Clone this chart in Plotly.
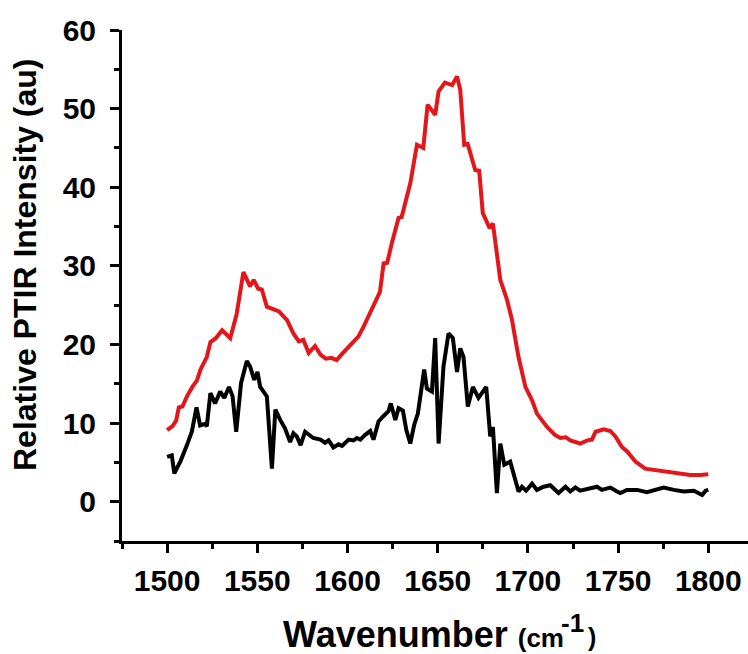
import plotly.graph_objects as go

# Red spectrum
red_x = [1500, 1503, 1505, 1506.5, 1508.5, 1511, 1514, 1516.5, 1518.5, 1522, 1524, 1527,
         1530.5, 1533, 1535, 1538.5, 1542.3, 1546, 1548, 1550.5, 1552.5, 1555.3, 1558, 1562,
         1566.5, 1570, 1573, 1575.5, 1578.5, 1582, 1585, 1588, 1591, 1594, 1597, 1600, 1603,
         1606, 1609, 1612.5, 1616, 1618, 1620, 1622, 1624.6, 1628.3, 1630, 1632.5, 1634.8,
         1638.5, 1642, 1644.4, 1647, 1648.6, 1650.5, 1654, 1658, 1660.7, 1662.5, 1664.7,
         1666.6, 1670.8, 1673, 1675, 1678.8, 1680.6, 1684.7, 1688.4, 1691.2, 1694.8, 1698.6,
         1702.3, 1705, 1710.6, 1715, 1718, 1721, 1723.5, 1729, 1733, 1735.5, 1737.5, 1742,
         1745.7, 1748.5, 1752, 1755, 1759.6, 1765, 1770.7, 1777, 1784.5, 1790, 1795.6, 1800]
red_y = [9.1, 9.6, 10.3, 12.0, 12.1, 13.4, 14.6, 15.4, 16.8, 18.4, 20.3, 20.8,
         21.8, 21.3, 20.8, 23.8, 29.2, 27.4, 28.2, 27.1, 27.0, 24.8, 24.6, 24.2,
         23.1, 21.4, 20.4, 20.6, 18.9, 19.8, 18.7, 18.2, 18.3, 18.0, 18.8, 19.5, 20.2,
         21.0, 22.3, 24.0, 25.6, 26.7, 30.3, 30.4, 32.9, 36.1, 36.2, 38.5, 40.5,
         45.4, 45.0, 50.5, 49.6, 49.2, 52.2, 53.3, 53.0, 54.1, 52.4, 45.4,
         45.5, 42.2, 42.1, 36.7, 34.8, 35.4, 28.2, 25.7, 23.1, 18.4, 14.6,
         12.9, 11.2, 9.5, 8.5, 8.1, 8.2, 7.8, 7.4, 7.8, 7.9, 8.9, 9.2,
         9.0, 8.3, 7.0, 6.4, 5.1, 4.2, 4.0, 3.8, 3.6, 3.4, 3.4, 3.5]

# Black spectrum
black_x = [1500, 1502.6, 1504, 1507.5, 1511, 1513.7, 1516.3, 1518.3, 1521, 1522, 1524, 1526.6,
           1529.4, 1531.7, 1534.3, 1536.3, 1538.3, 1541, 1544.2, 1546, 1548.3, 1550.1, 1551.6,
           1553.8, 1555.3, 1558.1, 1560, 1562.7, 1565.4, 1568.2, 1570, 1571.9, 1574, 1576.5,
           1581, 1585, 1587.6, 1589.5, 1592.2, 1595, 1597, 1600.6, 1603.4, 1605.2, 1607.1,
           1609.8, 1612.6, 1614.4, 1617.2, 1620, 1622.7, 1624, 1626.5, 1628.3, 1630.7, 1632.6,
           1634.8, 1637, 1639, 1642.5, 1644, 1646.8, 1648.6, 1650.5, 1653.2, 1656, 1658.4,
           1660.7, 1662.5, 1664.3, 1666.7, 1669.5, 1672.6, 1676.9, 1679.1, 1680.6, 1682.8,
           1684.7, 1686.9, 1690.2, 1694.8, 1696.7, 1699, 1702.3, 1705, 1708.7, 1712.4, 1717,
           1720.8, 1723.5, 1726.3, 1729, 1733.7, 1738.3, 1741, 1745.7, 1749.4, 1751.2, 1754.9,
           1760.5, 1766, 1769.8, 1775.3, 1780.9, 1786.4, 1792, 1796.6, 1798.5, 1800]
black_y = [5.7, 5.9, 3.6, 5.2, 7.2, 8.9, 12.0, 9.7, 9.9, 9.6, 13.8, 12.5,
           14.0, 13.2, 14.6, 13.4, 8.9, 15.1, 17.9, 17.2, 15.5, 16.5, 14.6,
           13.8, 13.4, 4.2, 11.7, 10.4, 9.3, 7.6, 8.7, 8.3, 7.2, 8.9,
           8.1, 7.9, 7.5, 7.8, 6.9, 7.3, 7.1, 7.9, 7.8, 8.1, 7.9,
           8.5, 9.0, 7.9, 10.2, 10.9, 11.5, 12.5, 10.4, 11.9, 11.6, 9.1,
           7.4, 9.8, 11.2, 16.8, 14.4, 14.0, 20.8, 7.4, 17.2, 21.4, 20.8,
           16.5, 19.5, 18.4, 12.1, 14.6, 13.2, 14.6, 8.3, 9.5, 1.1,
           7.4, 4.7, 5.1, 1.3, 1.9, 1.4, 2.3, 1.5, 1.9, 2.1, 1.1,
           1.9, 1.3, 1.8, 1.4, 1.7, 1.9, 1.5, 1.8, 1.3, 1.1, 1.5,
           1.5, 1.2, 1.5, 1.8, 1.5, 1.3, 1.4, 0.85, 1.4, 1.5]

x_ticks = [1500, 1550, 1600, 1650, 1700, 1750, 1800]
y_ticks = [0, 10, 20, 30, 40, 50, 60]

fig = go.Figure()
fig.add_trace(go.Scatter(x=red_x, y=red_y, mode="lines",
                         line=dict(color="#E3161B", width=4), showlegend=False))
fig.add_trace(go.Scatter(x=black_x, y=black_y, mode="lines",
                         line=dict(color="black", width=4), showlegend=False))

FONT = "Liberation Sans"
tickfont = dict(family=FONT, size=30, weight="bold", color="black")

# plot area in pixels: left 122, width 626, bottom 541, height 511
def px(xp):
    return (xp - 122) / 626.0

def py(yp):
    return (541 - yp) / 511.0

fig.update_layout(
    width=748, height=654,
    margin=dict(l=122, r=0, t=30, b=113),
    plot_bgcolor="white", paper_bgcolor="white",
    xaxis=dict(range=[1475, 1822], tickvals=x_ticks, ticktext=[str(v) for v in x_ticks],
               showline=True, linewidth=3, linecolor="black", showgrid=False, zeroline=False,
               ticks="outside", ticklen=9, tickwidth=3, tickcolor="black",
               minor=dict(dtick=25, tick0=1475, ticks="outside", ticklen=5, tickwidth=2.5,
                          tickcolor="black", showgrid=False),
               tickfont=tickfont, ticklabelstandoff=2, automargin=False),
    yaxis=dict(range=[-5, 60], tickvals=y_ticks, ticktext=[str(v) for v in y_ticks],
               showline=True, linewidth=3, linecolor="black", showgrid=False, zeroline=False,
               ticks="outside", ticklen=9, tickwidth=3, tickcolor="black",
               minor=dict(dtick=5, tick0=0, ticks="outside", ticklen=5, tickwidth=2.5,
                          tickcolor="black", showgrid=False),
               tickfont=tickfont, ticklabelstandoff=8, automargin=False),
    annotations=[
        dict(text="<b>Relative PTIR Intensity (au)</b>", textangle=-90,
             xref="paper", yref="paper", x=px(25), y=py(265), xanchor="center", yanchor="middle",
             showarrow=False, font=dict(family=FONT, size=32, color="black")),
        dict(text="<b>Wavenumber <span style='font-size:26px'>(cm</span></b>",
             xref="paper", yref="paper", x=px(566), y=py(634), xanchor="right", yanchor="middle",
             showarrow=False, font=dict(family=FONT, size=36, color="black")),
        dict(text="<b>-1</b>",
             xref="paper", yref="paper", x=px(560), y=py(623), xanchor="left", yanchor="middle",
             showarrow=False, font=dict(family=FONT, size=26, color="black"), borderpad=0),
        dict(text="<b>)</b>",
             xref="paper", yref="paper", x=px(587), y=py(637), xanchor="left", yanchor="middle",
             showarrow=False, font=dict(family=FONT, size=25, color="black"), borderpad=0),
    ],
)

fig.write_html("out.html", config={"displayModeBar": False},
               post_script="document.body.style.margin='0';document.body.style.overflow='hidden';")
